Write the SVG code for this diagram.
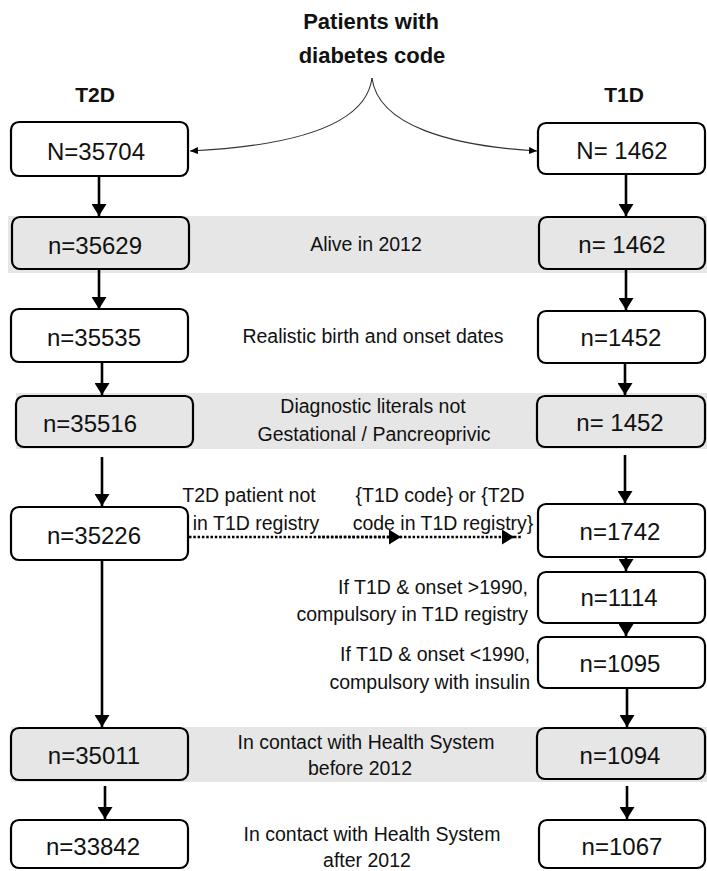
<svg xmlns="http://www.w3.org/2000/svg" width="707" height="871" viewBox="0 0 707 871">
<style>
.box{fill:#ffffff;stroke:#000;stroke-width:2.2}
.gbox{fill:#e6e6e6;stroke:#000;stroke-width:2.2}
.band{fill:#e6e6e6}
.num{font-family:"Liberation Sans",Arial,sans-serif;font-size:24px;fill:#111;text-anchor:middle}
.lbl{font-family:"Liberation Sans",Arial,sans-serif;font-size:19.5px;fill:#111;text-anchor:middle}
.lblr{font-family:"Liberation Sans",Arial,sans-serif;font-size:19.5px;fill:#111;text-anchor:end}
.ttl{font-family:"Liberation Sans",Arial,sans-serif;font-size:22px;font-weight:bold;fill:#111;text-anchor:middle}
.arr{stroke:#000;stroke-width:2.6;fill:none;marker-end:url(#ah)}
.dot{stroke:#000;stroke-width:2.6;fill:none;stroke-dasharray:2.5 1.8;marker-end:url(#ah)}
.cur{stroke:#333;stroke-width:1.1;fill:none;marker-end:url(#sh)}
</style>
<defs>
<marker id="ah" markerUnits="userSpaceOnUse" markerWidth="12" markerHeight="15" viewBox="0 0 12 15" refX="12" refY="7.5" orient="auto"><path d="M0,0 L12,7.5 L0,15 z" fill="#000"/></marker>
<marker id="sh" markerUnits="userSpaceOnUse" markerWidth="8" markerHeight="7" viewBox="0 0 8 7" refX="8" refY="3.5" orient="auto"><path d="M0,0 L8,3.5 L0,7 z" fill="#000"/></marker>
</defs>

<!-- bands -->
<rect class="band" x="8" y="216" width="699" height="57"/>
<rect class="band" x="16" y="393" width="691" height="56"/>
<rect class="band" x="11" y="727" width="696" height="55"/>

<g id="title">
<text class="ttl" x="371" y="29">Patients with</text>
<text class="ttl" x="372" y="63">diabetes code</text>
</g>
<g id="t2d-head"><text class="ttl" x="95" y="102" style="font-size:21px">T2D</text></g>
<g id="t1d-head"><text class="ttl" x="624" y="102" style="font-size:21px">T1D</text></g>

<g id="connectors">
<path class="cur" d="M372,78 C366,126 292,146 190,151"/>
<path class="cur" d="M372,78 C378,126 452,146 537,151"/>
<line class="arr" x1="99" y1="176" x2="99" y2="216"/>
<line class="arr" x1="99" y1="269" x2="99" y2="309"/>
<line class="arr" x1="102" y1="362" x2="102" y2="395"/>
<line class="arr" x1="102" y1="457" x2="102" y2="506"/>
<line class="arr" x1="102" y1="560" x2="102" y2="727"/>
<line class="arr" x1="105" y1="786" x2="105" y2="819"/>
<line class="arr" x1="626" y1="174" x2="626" y2="216"/>
<line class="arr" x1="626" y1="269" x2="626" y2="310"/>
<line class="arr" x1="625" y1="363" x2="625" y2="395"/>
<line class="arr" x1="625" y1="455" x2="625" y2="503"/>
<line class="arr" x1="626" y1="557" x2="626" y2="571"/>
<line class="arr" x1="626" y1="623" x2="626" y2="636"/>
<line class="arr" x1="627" y1="688" x2="627" y2="727"/>
<line class="arr" x1="627" y1="786" x2="627" y2="819"/>
<line class="dot" x1="189" y1="537" x2="401" y2="537"/>
<line class="dot" x1="318" y1="537" x2="514" y2="537"/>
<line x1="514" y1="537" x2="521" y2="537" stroke="#000" stroke-width="2.6" stroke-dasharray="2.5 1.8"/>
</g>

<g id="l1"><rect class="box" x="11" y="122" width="177" height="54" rx="8"/><text class="num" x="96" y="160">N=35704</text></g>
<g id="l2"><rect class="gbox" x="12" y="217" width="177" height="52" rx="8"/><text class="num" x="95" y="254">n=35629</text></g>
<g id="l3"><rect class="box" x="11" y="309" width="177" height="53" rx="8"/><text class="num" x="94" y="346">n=35535</text></g>
<g id="l4"><rect class="gbox" x="16" y="396" width="177" height="51" rx="8"/><text class="num" x="90" y="432">n=35516</text></g>
<g id="l5"><rect class="box" x="11" y="507" width="177" height="53" rx="8"/><text class="num" x="94" y="544">n=35226</text></g>
<g id="l6"><rect class="gbox" x="11" y="728" width="177" height="52" rx="8"/><text class="num" x="94" y="764">n=35011</text></g>
<g id="l7"><rect class="box" x="11" y="820" width="177" height="48" rx="8"/><text class="num" x="93" y="855">n=33842</text></g>

<g id="r1"><rect class="box" x="538" y="123" width="167" height="51" rx="8"/><text class="num" x="622" y="159">N= 1462</text></g>
<g id="r2"><rect class="gbox" x="539" y="217" width="166" height="52" rx="8"/><text class="num" x="622" y="253">n= 1462</text></g>
<g id="r3"><rect class="box" x="538" y="311" width="167" height="52" rx="8"/><text class="num" x="621" y="346">n=1452</text></g>
<g id="r4"><rect class="gbox" x="537" y="396" width="168" height="51" rx="8"/><text class="num" x="620" y="431">n= 1452</text></g>
<g id="r5"><rect class="box" x="538" y="504" width="167" height="53" rx="8"/><text class="num" x="620" y="540">n=1742</text></g>
<g id="r6"><rect class="box" x="538" y="572" width="167" height="51" rx="8"/><text class="num" x="619" y="606">n=1114</text></g>
<g id="r7"><rect class="box" x="538" y="637" width="167" height="51" rx="8"/><text class="num" x="620" y="672">n=1095</text></g>
<g id="r8"><rect class="gbox" x="537" y="728" width="168" height="51" rx="8"/><text class="num" x="620" y="764">n=1094</text></g>
<g id="r9"><rect class="box" x="539" y="820" width="166" height="48" rx="8"/><text class="num" x="622" y="855">n=1067</text></g>

<g id="labels">
<text class="lbl" x="366" y="251">Alive in 2012</text>
<text class="lbl" x="373" y="343">Realistic birth and onset dates</text>
<text class="lbl" x="373" y="413">Diagnostic literals not</text>
<text class="lbl" x="374" y="441">Gestational / Pancreoprivic</text>
<text class="lbl" x="249" y="502">T2D patient not</text>
<text class="lbl" x="256" y="530">in T1D registry</text>
<text class="lbl" x="440" y="502">{T1D code} or {T2D</text>
<text class="lbl" x="443" y="530">code in T1D registry}</text>
<text class="lblr" x="528" y="594">If T1D &amp; onset &gt;1990,</text>
<text class="lblr" x="528" y="621">compulsory in T1D registry</text>
<text class="lblr" x="530" y="661">If T1D &amp; onset &lt;1990,</text>
<text class="lblr" x="530" y="689">compulsory with insulin</text>
<text class="lbl" x="366" y="749">In contact with Health System</text>
<text class="lbl" x="360" y="775">before 2012</text>
<text class="lbl" x="372" y="841">In contact with Health System</text>
<text class="lbl" x="367" y="867">after 2012</text>
</g>
</svg>
